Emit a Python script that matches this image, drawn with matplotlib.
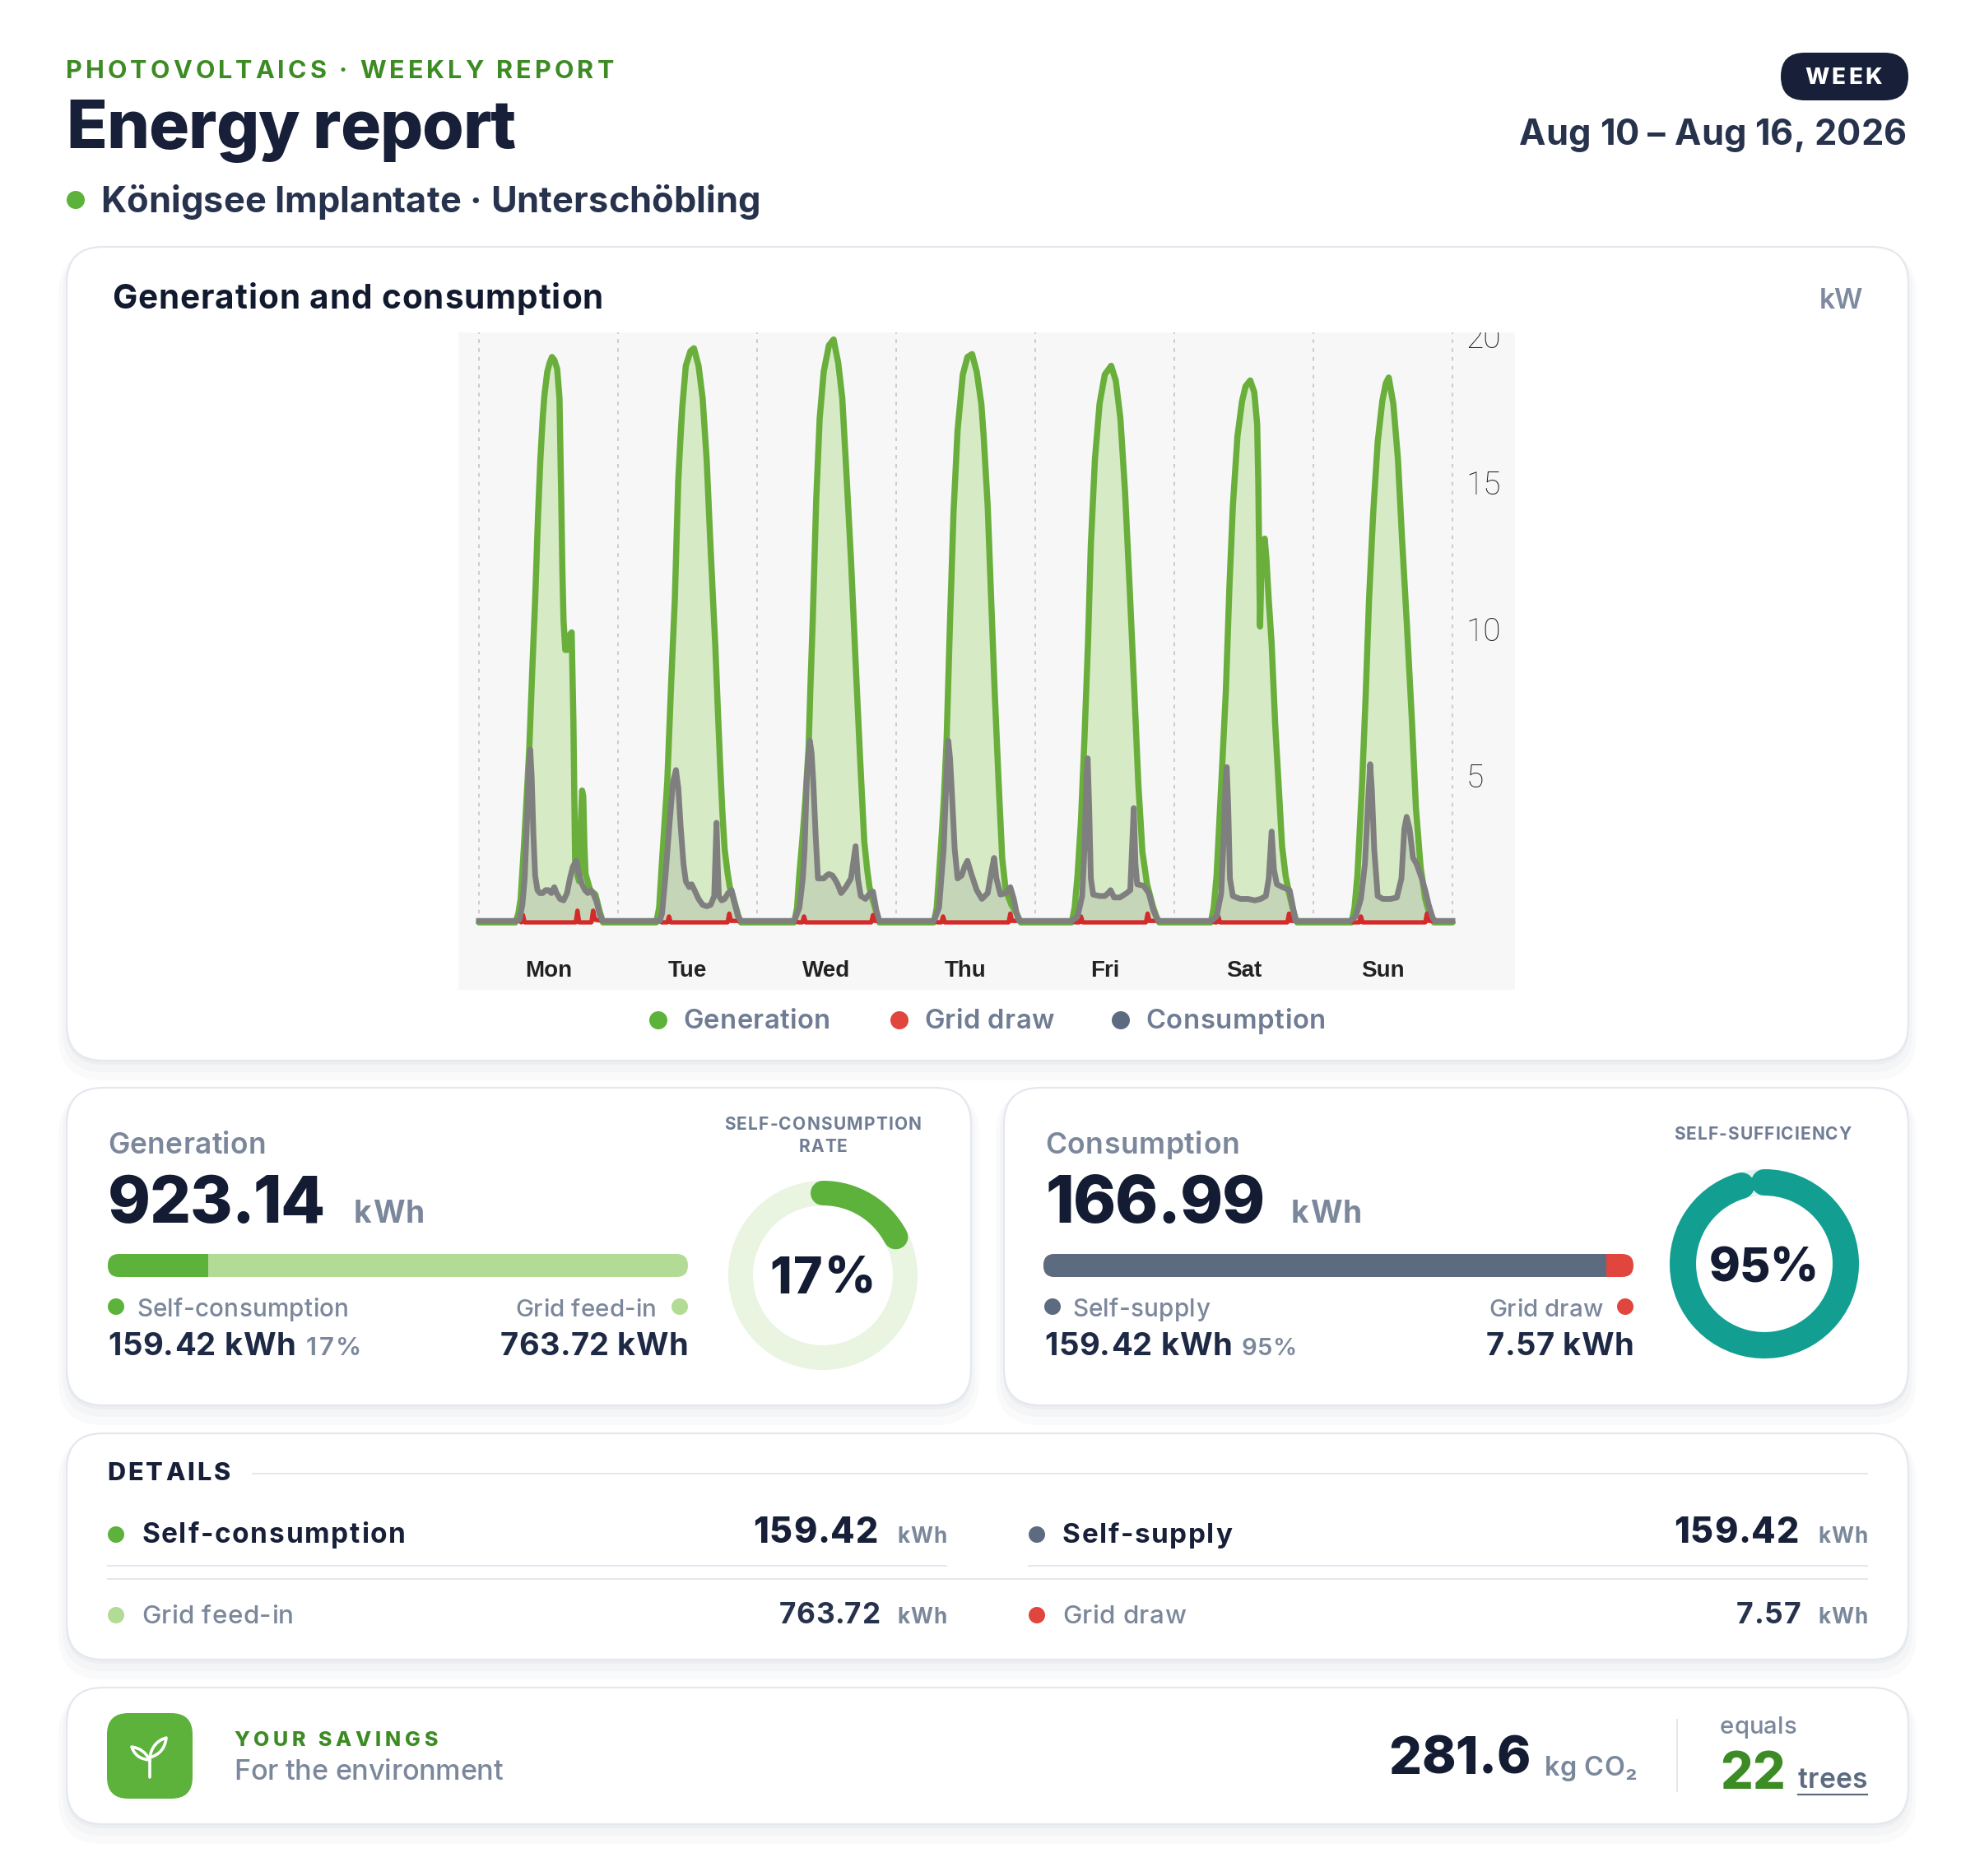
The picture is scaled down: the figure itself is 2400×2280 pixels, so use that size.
#!/usr/bin/env python3
"""Weekly photovoltaics energy report card, redrawn with matplotlib."""
import matplotlib
matplotlib.use("Agg")
import matplotlib.pyplot as plt
from matplotlib.patches import FancyBboxPatch, Rectangle, Circle, Arc, PathPatch
from matplotlib.path import Path
from matplotlib.font_manager import FontProperties
from matplotlib.textpath import TextToPath

W, H, DPI = 2400, 2280, 100
FAMILY = ["Inter", "DejaVu Sans"]
plt.rcParams["font.family"] = FAMILY

NAVY = "#172038"
INK = "#27324d"
GREY_TXT = "#7b879b"
GREEN_TXT = "#3d8b24"
GREEN = "#5cb23b"
LIGHT_GREEN = "#b2dc95"
RED = "#e0463d"
SLATE = "#5d6b81"
TEAL = "#139e92"
BORDER = "#e4e8ee"

# ---------------- data (hour of day, kW) ----------------
DAYS = ["Mon", "Tue", "Wed", "Thu", "Fri", "Sat", "Sun"]
Y_TICKS = [5, 10, 15, 20]

gen_mon = [(0, 0), (6.3, 0), (6.8, 0.3), (7.2, 0.8), (7.8, 2.7), (8.3, 4.5), (8.7, 6.0), (9.2, 8.6),
           (9.7, 11.0), (10.2, 13.9), (10.6, 15.8), (11.0, 17.2), (11.3, 18.0), (11.8, 18.8), (12.2, 19.1),
           (12.6, 19.3), (13.0, 19.2), (13.5, 18.9), (13.9, 17.9), (14.2, 14.5), (14.4, 12.0), (14.6, 10.3),
           (14.9, 9.3), (15.2, 9.3), (15.6, 9.8), (16.0, 9.9), (16.3, 6.9), (16.6, 2.1), (17.0, 1.6),
           (17.3, 1.4), (17.6, 3.5), (17.8, 4.5), (18.0, 4.3), (18.2, 2.6), (18.4, 1.65), (19.2, 1.1),
           (20.1, 0.95), (20.8, 0.4), (21.4, 0), (24, 0)]
gen_tue = [(0, 0), (6.6, 0), (7.1, 0.5), (7.6, 2.1), (8.1, 3.6), (8.5, 4.8), (8.9, 6.8), (9.2, 8.3),
           (9.8, 11.0), (10.4, 15.1), (10.8, 16.6), (11.1, 17.6), (11.7, 19.0), (12.5, 19.5), (13.1, 19.6),
           (13.9, 19.0), (14.6, 17.9), (15.3, 15.8), (15.9, 13.1), (16.4, 11.0), (16.8, 9.4), (17.2, 7.4),
           (17.6, 5.5), (18.0, 3.8), (18.4, 2.5), (18.9, 1.7), (19.3, 1.2), (19.8, 0.9), (20.3, 0.55),
           (20.8, 0.2), (21.2, 0), (24, 0)]
gen_wed = [(0, 0), (6.4, 0), (6.9, 0.5), (7.3, 1.65), (7.8, 2.8), (8.3, 4.1), (8.9, 6.0), (9.2, 8.0),
           (9.6, 10.3), (10.2, 14.4), (10.8, 17.2), (11.5, 18.8), (12.4, 19.7), (13.2, 19.9), (14.0, 19.1),
           (14.7, 17.9), (15.4, 15.4), (16.2, 12.4), (17.0, 8.9), (17.8, 5.5), (18.2, 3.9), (18.5, 2.75),
           (19.0, 1.8), (19.4, 1.2), (19.9, 0.8), (20.3, 0.55), (20.7, 0.25), (21.1, 0), (24, 0)]
gen_thu = [(0, 0), (6.5, 0), (7.0, 0.5), (7.4, 1.65), (7.8, 2.8), (8.2, 4.1), (8.7, 6.2), (9.3, 10.3),
           (9.9, 14.0), (10.6, 16.8), (11.5, 18.7), (12.3, 19.3), (13.1, 19.4), (13.9, 18.8), (14.7, 17.7),
           (15.1, 16.6), (15.8, 14.2), (16.4, 11.0), (17.0, 7.9), (17.7, 4.7), (18.3, 2.2), (18.9, 1.1),
           (19.9, 0.6), (20.8, 0.3), (21.5, 0), (24, 0)]
gen_fri = [(0, 0), (6.3, 0), (6.8, 0.5), (7.3, 1.6), (7.9, 3.5), (8.5, 6.3), (9.1, 9.5), (9.6, 12.9),
           (10.3, 15.8), (11.1, 17.7), (12.0, 18.7), (13.1, 19.0), (13.9, 18.5), (14.7, 17.2), (15.5, 14.7),
           (16.3, 11.4), (17.1, 7.9), (17.8, 4.7), (18.5, 2.4), (19.3, 1.3), (20.3, 0.55), (20.9, 0.2),
           (21.4, 0), (24, 0)]
gen_sat = [(0, 0), (6.3, 0), (6.8, 0.5), (7.3, 1.6), (8.1, 4.7), (8.9, 7.9), (9.5, 11.4), (10.1, 14.2),
           (10.9, 16.6), (11.7, 17.8), (12.3, 18.3), (13.1, 18.5), (13.8, 18.1), (14.3, 17.0), (14.5, 15.0),
           (14.7, 11.5), (14.8, 10.1), (15.0, 11.8), (15.3, 12.9), (15.6, 13.1), (15.9, 12.4), (16.3, 11.0),
           (16.8, 9.5), (17.4, 6.8), (18.0, 4.7), (18.6, 2.6), (19.2, 1.6), (19.8, 1.0), (20.4, 0.5),
           (20.9, 0.15), (21.2, 0), (24, 0)]
gen_sun = [(0, 0), (6.6, 0), (7.1, 0.5), (7.6, 1.6), (8.4, 4.7), (9.0, 7.6), (9.6, 11.0), (10.3, 13.9),
           (11.1, 16.4), (11.9, 17.8), (12.5, 18.4), (13.0, 18.6), (13.8, 17.7), (14.6, 15.8), (15.3, 13.1),
           (16.1, 10.3), (17.0, 6.9), (17.7, 3.9), (18.5, 1.9), (19.3, 0.8), (20.1, 0.25), (20.8, 0), (24, 0)]

con_mon = [(0, 0.05), (6.5, 0.05), (7.0, 0.1), (7.5, 0.6), (7.9, 1.5), (8.3, 3.5), (8.6, 5.2), (8.85, 5.9),
           (9.1, 5.0), (9.4, 3.0), (9.7, 1.6), (10.1, 1.1), (10.5, 1.0), (11.0, 1.0), (11.5, 1.1), (12.0, 1.1),
           (12.5, 1.0), (13.0, 1.2), (13.4, 1.0), (14.0, 0.8), (14.6, 0.75), (15.2, 1.0), (15.7, 1.5),
           (16.2, 1.9), (16.8, 2.1), (17.2, 1.7), (17.8, 1.3), (18.3, 1.1), (18.8, 1.0), (19.3, 1.1),
           (19.8, 0.95), (20.3, 0.7), (20.8, 0.3), (21.3, 0.05), (24, 0.05)]
con_tue = [(0, 0.05), (7.2, 0.05), (7.6, 0.3), (8.2, 1.6), (8.9, 3.4), (9.5, 4.8), (10.0, 5.2), (10.4, 4.6),
           (10.8, 3.3), (11.3, 2.0), (11.7, 1.4), (12.3, 1.2), (12.7, 1.3), (13.2, 1.1), (13.9, 0.8),
           (14.6, 0.6), (15.3, 0.55), (16.0, 0.6), (16.6, 0.9), (16.8, 2.2), (17.0, 3.4), (17.2, 2.0),
           (17.4, 0.9), (17.9, 0.75), (18.4, 0.8), (19.0, 1.0), (19.6, 1.1), (20.2, 0.6), (20.7, 0.2),
           (21.2, 0.05), (24, 0.05)]
con_wed = [(0, 0.05), (6.4, 0.05), (7.3, 0.5), (7.9, 1.5), (8.2, 2.5), (8.6, 5.0), (9.1, 6.2), (9.4, 5.8),
           (9.7, 4.8), (10.1, 3.0), (10.5, 1.5), (11.0, 1.5), (11.5, 1.5), (12.0, 1.6), (12.4, 1.65),
           (13.0, 1.6), (13.5, 1.45), (13.9, 1.3), (14.5, 1.0), (15.3, 1.2), (16.2, 1.5), (16.7, 2.2),
           (17.0, 2.6), (17.4, 1.5), (17.9, 0.9), (18.7, 0.8), (19.5, 1.0), (20.0, 1.05), (20.6, 0.4),
           (21.1, 0.05), (24, 0.05)]
con_thu = [(0, 0.05), (6.5, 0.05), (7.4, 0.5), (8.2, 2.5), (8.7, 5.0), (9.0, 6.2), (9.3, 5.6), (9.6, 4.5),
           (10.1, 2.5), (10.6, 1.5), (11.3, 1.6), (11.8, 1.9), (12.3, 2.1), (12.9, 1.7), (13.4, 1.4),
           (13.9, 1.1), (14.8, 0.8), (15.8, 1.0), (16.5, 1.8), (16.9, 2.2), (17.3, 1.5), (18.0, 0.95),
           (18.9, 1.0), (19.7, 1.2), (20.3, 0.8), (20.8, 0.3), (21.2, 0.05), (24, 0.05)]
con_fri = [(0, 0.05), (6.3, 0.05), (7.3, 0.2), (8.1, 0.9), (8.5, 2.5), (8.85, 5.0), (9.05, 5.6), (9.3, 4.0),
           (9.6, 1.5), (10.0, 0.95), (11.1, 0.9), (12.0, 0.9), (12.6, 1.0), (13.0, 1.1), (13.6, 0.85),
           (14.6, 0.85), (15.8, 1.0), (16.4, 1.1), (16.7, 2.5), (17.0, 3.9), (17.3, 2.0), (17.6, 1.3),
           (18.7, 1.25), (19.6, 1.0), (20.4, 0.4), (21.2, 0.05), (24, 0.05)]
con_sat = [(0, 0.05), (6.3, 0.05), (7.3, 0.2), (8.1, 1.0), (8.5, 2.8), (8.85, 4.8), (9.05, 5.3), (9.3, 4.0),
           (9.6, 1.5), (10.1, 0.9), (11.4, 0.8), (12.7, 0.8), (13.9, 0.75), (14.9, 0.8), (15.8, 0.9),
           (16.3, 1.5), (16.8, 3.1), (17.2, 1.8), (17.7, 1.3), (18.7, 1.2), (19.9, 1.1), (20.4, 0.6),
           (20.9, 0.05), (24, 0.05)]
con_sun = [(0, 0.05), (6.3, 0.05), (7.3, 0.2), (8.2, 0.8), (8.9, 2.0), (9.4, 4.0), (9.8, 5.4), (10.1, 4.5),
           (10.5, 2.5), (11.1, 0.9), (12.0, 0.8), (13.3, 0.8), (14.4, 0.85), (15.2, 1.5), (15.7, 3.2),
           (16.1, 3.6), (16.6, 3.2), (17.2, 2.2), (17.8, 2.0), (18.7, 1.5), (19.3, 1.1), (19.9, 0.6),
           (20.6, 0.15), (21.0, 0.05), (24, 0.05)]

grid_mon = [(0, 0.05), (7.0, 0.05), (7.3, 0), (7.6, 0.25), (7.9, 0), (16.7, 0), (17.0, 0.4), (17.3, 0),
            (19.4, 0), (19.7, 0.4), (20.0, 0.1), (21.3, 0.05), (24, 0.05)]
grid_tue = [(0, 0.05), (7.2, 0.05), (7.5, 0), (8.5, 0), (8.8, 0.2), (9.1, 0), (18.9, 0), (19.2, 0.3),
            (19.5, 0.05), (24, 0.05)]
grid_wed = [(0, 0.05), (6.5, 0.05), (7.2, 0), (7.8, 0), (8.1, 0.2), (8.4, 0), (19.7, 0), (20.0, 0.25),
            (20.3, 0.05), (24, 0.05)]
grid_thu = [(0, 0.05), (6.5, 0.05), (7.2, 0), (7.8, 0), (8.1, 0.2), (8.4, 0), (19.4, 0), (19.7, 0.3),
            (20.0, 0.05), (24, 0.05)]
grid_fri = [(0, 0.05), (6.3, 0.05), (7.0, 0), (7.6, 0), (7.9, 0.2), (8.2, 0), (19.1, 0), (19.4, 0.3),
            (19.7, 0.05), (24, 0.05)]
grid_sat = [(0, 0.05), (6.3, 0.05), (7.0, 0), (7.3, 0), (7.6, 0.2), (7.9, 0), (19.5, 0), (19.8, 0.3),
            (20.1, 0.05), (24, 0.05)]
grid_sun = [(0, 0.05), (6.3, 0.05), (7.0, 0), (7.9, 0), (8.2, 0.2), (8.5, 0), (19.3, 0), (19.6, 0.3),
            (19.9, 0.05), (24, 0.05)]

GENERATION = [gen_mon, gen_tue, gen_wed, gen_thu, gen_fri, gen_sat, gen_sun]
CONSUMPTION = [con_mon, con_tue, con_wed, con_thu, con_fri, con_sat, con_sun]
GRID_DRAW = [grid_mon, grid_tue, grid_wed, grid_thu, grid_fri, grid_sat, grid_sun]

GENERATION_KWH = 923.14
SELF_CONSUMPTION_KWH = 159.42
GRID_FEED_IN_KWH = 763.72
CONSUMPTION_KWH = 166.99
SELF_SUPPLY_KWH = 159.42
GRID_DRAW_KWH = 7.57
CO2_SAVED_KG = 281.6
TREES = 22
PERIOD = "Aug 10 \u2013 Aug 16, 2026"
SITE = "K\u00f6nigsee Implantate \u00b7 Untersch\u00f6bling"

fig = plt.figure(figsize=(W / DPI, H / DPI), dpi=DPI)
fig.patch.set_facecolor("white")
bg = fig.add_axes([0, 0, 1, 1])
bg.set_xlim(0, W)
bg.set_ylim(H, 0)
bg.axis("off")

_ttp = TextToPath()


def _w(s, fp):
    w, _, _ = _ttp.get_text_width_height_descent(s, fp, ismath=False)
    return w * DPI / 72


def _adv(s, fp):
    return _w(s + "x", fp) - _w("x", fp)


def put(x, y, s, size, weight="normal", color=NAVY, ha="left", width=None, mode="mix"):
    """Draw text char by char at baseline y, hitting a target width (px).

    mode "track": keep the size, change letter spacing only;
    mode "mix": split the difference between size and spacing.
    """
    fp = FontProperties(family=FAMILY, size=size, weight=weight)
    nat = _w(s, fp)
    if width and mode == "mix":
        size = size * (width / nat) ** 0.5
        fp = FontProperties(family=FAMILY, size=size, weight=weight)
        nat = _w(s, fp)
    track = (width - nat) / (len(s) - 1) if (width and len(s) > 1) else 0
    total = nat + track * (len(s) - 1)
    x0 = x - total / 2 if ha == "center" else (x - total if ha == "right" else x)
    for i, ch in enumerate(s):
        if ch == " ":
            continue
        bg.text(x0 + _adv(s[:i], fp) + i * track, y, ch, fontproperties=fp, color=color,
                ha="left", va="baseline")


def card(x0, y0, x1, y1, r=44):
    for grow, dy, a in [(10, 14, 0.018), (5, 9, 0.025), (1, 4, 0.03)]:
        bg.add_patch(FancyBboxPatch((x0 - grow, y0 + dy - grow), x1 - x0 + 2 * grow, y1 - y0 + 2 * grow,
                                    boxstyle=f"round,pad=0,rounding_size={r + grow}",
                                    fc="#1b2640", ec="none", alpha=a, zorder=1))
    bg.add_patch(FancyBboxPatch((x0, y0), x1 - x0, y1 - y0, boxstyle=f"round,pad=0,rounding_size={r}",
                                fc="white", ec=BORDER, lw=1.6, zorder=2))


def dot(x, y, c, r=10):
    bg.add_patch(Circle((x, y), r, fc=c, ec="none", zorder=3))


def hline(x0, x1, y, c=BORDER, lw=2.0):
    bg.plot([x0, x1], [y, y], color=c, lw=lw * 0.72, zorder=3, solid_capstyle="butt")


def bar(x0, x1, y0, y1, parts):
    base = FancyBboxPatch((x0, y0), x1 - x0, y1 - y0, boxstyle=f"round,pad=0,rounding_size={(y1 - y0) / 2}",
                          fc=parts[-1][1], ec="none", zorder=3)
    bg.add_patch(base)
    left = x0
    for frac, col in parts[:-1]:
        right = left + frac * (x1 - x0)
        rect = Rectangle((left, y0), right - left, y1 - y0, fc=col, ec="none", zorder=4)
        bg.add_patch(rect)
        rect.set_clip_path(base)
        left = right


def donut(cx, cy, r, width_px, frac, col, track_col):
    lw = width_px * 0.72
    bg.add_patch(Circle((cx, cy), r, fc="none", ec=track_col, lw=lw, zorder=3))
    bg.add_patch(Arc((cx, cy), 2 * r, 2 * r, theta1=-90, theta2=-90 + 360 * frac, ec=col, lw=lw,
                     capstyle="round", zorder=4))


# ---------------- header ----------------
put(80, 95, "PHOTOVOLTAICS \u00b7 WEEKLY REPORT", 22, "bold", GREEN_TXT, width=666, mode="track")
put(80, 180, "Energy report", 59, "heavy", NAVY, width=547, mode="track")
dot(92, 243, GREEN, r=11)
put(122, 258, SITE, 31, "bold", INK, width=802)
bg.add_patch(FancyBboxPatch((2164, 64), 155, 58, boxstyle="round,pad=0,rounding_size=29",
                            fc=NAVY, ec="none", zorder=2))
put(2240, 102, "WEEK", 20, "heavy", "white", ha="center", width=94, mode="track")
put(2317, 176, PERIOD, 31, "bold", INK, ha="right", width=471)

# ---------------- chart card ----------------
card(81, 300, 2319, 1289)
put(136, 375, "Generation and consumption", 28, "bold", "#111a2e", width=597)
put(2263, 375, "kW", 25, "semibold", "#7d8aa0", ha="right", width=52)

PX_L, PX_R, PX_T, PX_B = 557, 1841, 404, 1203
DAY_PX, X0_PX, Y0_PX, UNIT_PX = 169.0, 582.0, 1121.0, 35.6
cax = fig.add_axes([PX_L / W, 1 - PX_B / H, (PX_R - PX_L) / W, (PX_B - PX_T) / H])
cax.set_facecolor("#f7f7f7")
cax.set_xlim(-(X0_PX - PX_L) / DAY_PX, (PX_R - X0_PX) / DAY_PX)
cax.set_ylim(-(PX_B - Y0_PX) / UNIT_PX, (Y0_PX - PX_T) / UNIT_PX)
for s in cax.spines.values():
    s.set_visible(False)
cax.set_xticks([])
cax.set_yticks([])


def series(days):
    xs, ys = [], []
    for i, pts in enumerate(days):
        for h, v in pts:
            xs.append(i + h / 24)
            ys.append(v)
    return xs, ys


gx, gy = series(GENERATION)
cx_, cy_ = series(CONSUMPTION)
rx, ry = series(GRID_DRAW)
top = cax.get_ylim()[1]
cax.vlines(range(len(DAYS) + 1), 0, top, colors="#c8c8c8", linestyles=(0, (2.5, 3.5)), lw=1.3, zorder=1)
cax.fill_between(gx, 0, gy, color="#d6eac6", lw=0, zorder=2)
cax.fill_between(cx_, 0, cy_, color="#7a7a7a", alpha=0.18, lw=0, zorder=2.5)
cax.plot(gx, gy, color="#6aae3c", lw=5.4, solid_joinstyle="round", solid_capstyle="round", zorder=3)
cax.plot(rx, ry, color="#d42a2a", lw=3.8, solid_joinstyle="round", zorder=4)
cax.plot(cx_, cy_, color="#7f7f7f", lw=5.0, solid_joinstyle="round", zorder=5)
for v in Y_TICKS:
    cax.text(7.10, v - 14 / UNIT_PX, str(v), family=["Roboto", "DejaVu Sans"], weight="light", fontsize=28,
             color="#1c1c1c", ha="left", va="baseline", clip_on=True, zorder=6)
for i, d in enumerate(DAYS):
    cax.text(i + 0.5, -(1187 - Y0_PX) / UNIT_PX, d, family=["Liberation Sans", "DejaVu Sans"], weight="bold",
             fontsize=20, color="#222222", ha="center", va="baseline")

for x, lab, c, w in [(800, "Generation", GREEN, 179), (1093, "Grid draw", RED, 158),
                     (1362, "Consumption", SLATE, 219)]:
    dot(x, 1240, c, r=11)
    put(x + 30, 1250, lab, 23, "semibold", "#6f7c93", width=w)

# ---------------- generation card ----------------
card(81, 1322, 1180, 1708)
sc_rate = SELF_CONSUMPTION_KWH / GENERATION_KWH
put(131, 1402, "Generation", 25, "semibold", GREY_TXT, width=192)
put(131, 1486, f"{GENERATION_KWH:.2f}", 58, "heavy", "#141c33", width=264)
put(430, 1486, "kWh", 26, "bold", GREY_TXT, width=86)
bar(131, 836, 1524, 1552, [(sc_rate, GREEN), (1 - sc_rate, LIGHT_GREEN)])
dot(141, 1588, GREEN)
put(166, 1600, "Self-consumption", 21, "medium", GREY_TXT, width=258)
dot(826, 1588, LIGHT_GREEN)
put(798, 1600, "Grid feed-in", 21, "medium", GREY_TXT, ha="right", width=172)
put(131, 1647, f"{SELF_CONSUMPTION_KWH:.2f} kWh", 27, "bold", "#1e2a45", width=228)
put(372, 1647, f"{round(100 * sc_rate)}%", 21, "semibold", GREY_TXT, width=67)
put(836, 1647, f"{GRID_FEED_IN_KWH:.2f} kWh", 27, "bold", "#1e2a45", ha="right", width=228)
put(1000, 1373, "SELF-CONSUMPTION", 15, "bold", "#6f7c93", ha="center", width=240, mode="track")
put(1000, 1400, "RATE", 15, "bold", "#6f7c93", ha="center", width=59, mode="track")
donut(1000, 1550, 100, 30, sc_rate, GREEN, "#e9f4e1")
put(1000, 1572, f"{round(100 * sc_rate)}%", 42, "heavy", "#141c33", ha="center", width=129)

# ---------------- consumption card ----------------
card(1220, 1322, 2319, 1708)
ss_rate = SELF_SUPPLY_KWH / CONSUMPTION_KWH
put(1270, 1402, "Consumption", 25, "semibold", GREY_TXT, width=236)
put(1270, 1486, f"{CONSUMPTION_KWH:.2f}", 58, "heavy", "#141c33", width=267)
put(1569, 1486, "kWh", 26, "bold", GREY_TXT, width=86)
bar(1268, 1985, 1524, 1552, [(ss_rate, SLATE), (1 - ss_rate, RED)])
dot(1279, 1588, SLATE)
put(1303, 1600, "Self-supply", 21, "medium", GREY_TXT, width=167)
dot(1975, 1588, RED)
put(1948, 1600, "Grid draw", 21, "medium", GREY_TXT, ha="right", width=139)
put(1269, 1647, f"{SELF_SUPPLY_KWH:.2f} kWh", 27, "bold", "#1e2a45", width=228)
put(1509, 1647, f"{round(100 * ss_rate)}%", 21, "semibold", GREY_TXT, width=66)
put(1985, 1647, f"{GRID_DRAW_KWH:.2f} kWh", 27, "bold", "#1e2a45", ha="right", width=179)
put(2142, 1385, "SELF-SUFFICIENCY", 15, "bold", "#6f7c93", ha="center", width=216, mode="track")
donut(2144, 1536, 99, 32, ss_rate, TEAL, "#e2f3f0")
put(2143, 1557, f"{round(100 * ss_rate)}%", 42, "heavy", "#141c33", ha="center", width=132)

# ---------------- details card ----------------
card(81, 1742, 2319, 2017)
put(130, 1799, "DETAILS", 22, "heavy", NAVY, width=150, mode="track")
hline(306, 2270, 1791)
rows = [
    (1875, 130, 1151, GREEN, "Self-consumption", SELF_CONSUMPTION_KWH, True, 321, 152),
    (1875, 1249, 2270, SLATE, "Self-supply", SELF_SUPPLY_KWH, True, 206, 152),
    (1973, 130, 1151, LIGHT_GREEN, "Grid feed-in", GRID_FEED_IN_KWH, False, 185, 122),
    (1973, 1249, 2270, RED, "Grid draw", GRID_DRAW_KWH, False, 150, 78),
]
for y, xl, xr, c, lab, val, strong, lw_, vw in rows:
    dot(xl + 11, y - 10, c)
    if strong:
        put(xl + 42, y, lab, 22, "bold", NAVY, width=lw_)
        put(xr - 84, y, f"{val:.2f}", 30, "heavy", NAVY, ha="right", width=vw)
    else:
        put(xl + 42, y, lab, 22, "medium", GREY_TXT, width=lw_)
        put(xr - 82, y, f"{val:.2f}", 25, "bold", INK, ha="right", width=vw)
    put(xr, y, "kWh", 18, "bold", GREY_TXT, ha="right", width=61)
hline(130, 1151, 1903)
hline(1249, 2270, 1903)
hline(130, 2270, 1919)

# ---------------- savings card ----------------
card(81, 2051, 2319, 2217)
bg.add_patch(FancyBboxPatch((130, 2082), 104, 104, boxstyle="round,pad=0,rounding_size=26",
                            fc=GREEN, ec="none", zorder=3))
bg.plot([182, 182], [2160, 2136], color="white", lw=2.6, solid_capstyle="round", zorder=4)
leaf_r = Path([(182, 2136), (200, 2131), (202, 2112), (185, 2117), (182, 2136), (182, 2136)],
              [Path.MOVETO, Path.CURVE3, Path.CURVE3, Path.CURVE3, Path.CURVE3, Path.CLOSEPOLY])
leaf_l = Path([(182, 2139), (175, 2125), (160, 2123), (165, 2138), (182, 2139), (182, 2139)],
              [Path.MOVETO, Path.CURVE3, Path.CURVE3, Path.CURVE3, Path.CURVE3, Path.CLOSEPOLY])
for p in (leaf_r, leaf_l):
    bg.add_patch(PathPatch(p, fc="none", ec="white", lw=2.6, joinstyle="round", zorder=4))
put(284, 2122, "YOUR SAVINGS", 18, "heavy", GREEN_TXT, width=248, mode="track")
put(284, 2163, "For the environment", 25, "medium", GREY_TXT, width=327)
put(1860, 2156, f"{CO2_SAVED_KG:.1f}", 45, "heavy", "#141c33", ha="right", width=173)
put(1877, 2158, "kg CO\u2082", 23, "semibold", GREY_TXT, width=112)
bg.plot([2038, 2038], [2090, 2177], color=BORDER, lw=1.4, zorder=3)
put(2090, 2107, "equals", 21, "medium", GREY_TXT, width=93)
put(2090, 2174, f"{TREES}", 45, "heavy", GREEN_TXT, width=79)
put(2185, 2173, "trees", 24, "semibold", SLATE, width=84)
bg.plot([2185, 2269], [2181, 2181], color=SLATE, lw=1.6, zorder=4)

fig.savefig("out.png", dpi=DPI)
